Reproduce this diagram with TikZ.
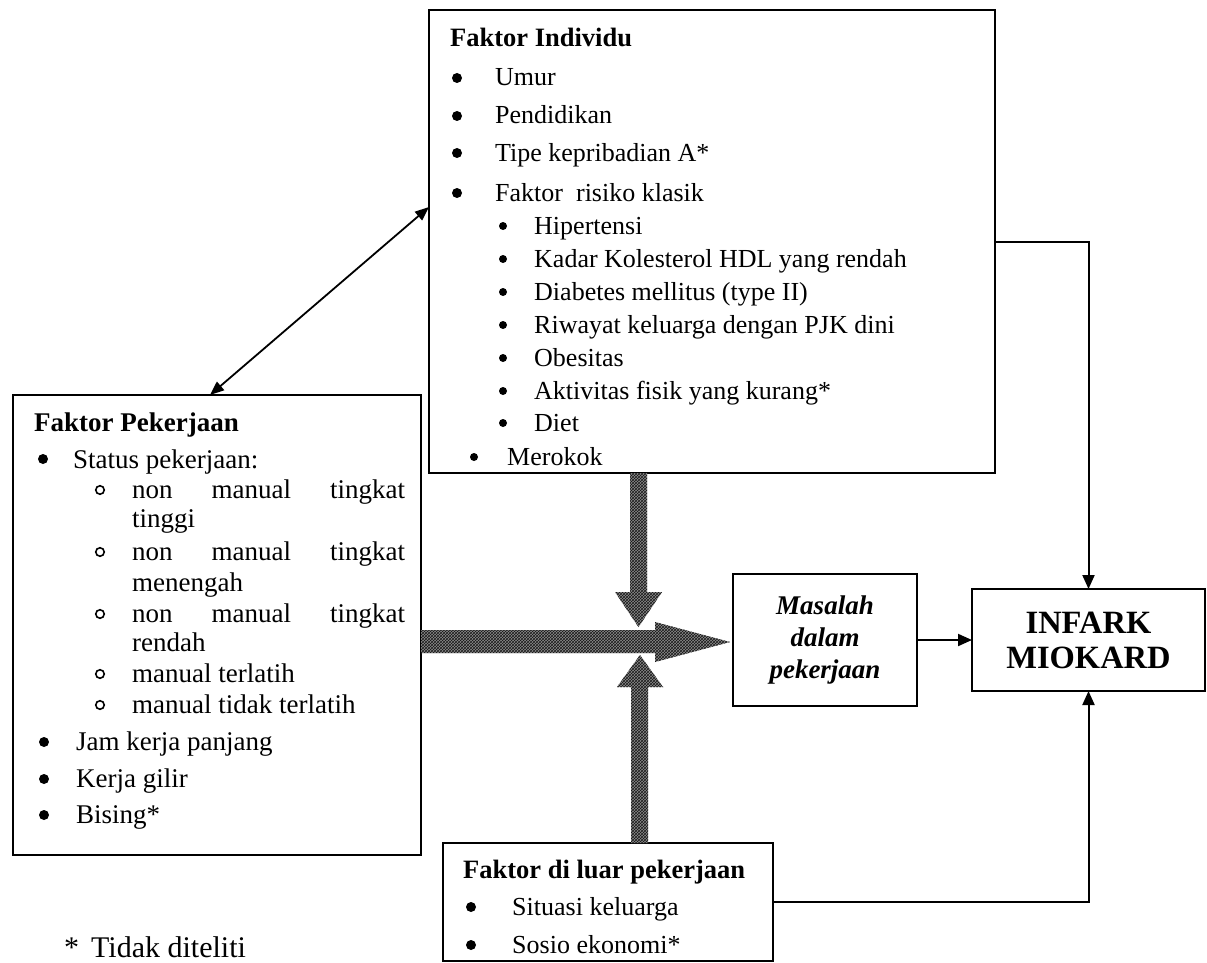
\documentclass[tikz,border=0pt]{standalone}
\usepackage{fontspec}
\setmainfont{Liberation Serif}
\usetikzlibrary{arrows.meta,patterns}
\begin{document}
\begin{tikzpicture}[x=1pt,y=-1pt,
  box/.style={draw, line width=2.2pt, inner sep=0pt, outer sep=0pt},
  conn/.style={line width=2pt, arrows={-Triangle[length=14pt,width=12pt]}},
  dconn/.style={line width=1.8pt, arrows={Triangle[length=14pt,width=11pt]-Triangle[length=14pt,width=11pt]}},
  txt/.style={anchor=base west, yshift=-8pt, inner sep=0pt, font=\fontsize{26}{30}\selectfont},
  ltxt/.style={anchor=base west, yshift=-8pt, inner sep=0pt, font=\fontsize{27}{31}\selectfont},
  hd/.style={anchor=base west, yshift=-8pt, inner sep=0pt, font=\fontsize{26.5}{30}\selectfont\bfseries},
  bul/.style={circle, fill=black, inner sep=0pt, minimum size=10pt},
  sbul/.style={circle, fill=black, inner sep=0pt, minimum size=8pt},
  obul/.style={circle, draw=black, line width=1.6pt, inner sep=0pt, minimum size=8.5pt},
  hatch/.style={preaction={fill=black!45}, pattern=crosshatch, pattern color=black!90}]
\fill[white] (0,0) rectangle (1207,963);
\useasboundingbox (0,0) rectangle (1207,963);

% boxes
\node[box, minimum width=566pt, minimum height=463pt] (ind) at (712,241.5) {};
\node[box, minimum width=408pt, minimum height=460pt] (kerja) at (217,625) {};
\node[box, minimum width=184pt, minimum height=132pt, align=center,
      font=\fontsize{27}{32}\selectfont\bfseries\itshape] (mas) at (825,640) {Masalah\\dalam\\pekerjaan};
\node[box, minimum width=233pt, minimum height=102pt, align=center,
      font=\fontsize{32.5}{35}\selectfont\bfseries] (inf) at (1088.5,640) {INFARK\\MIOKARD};
\node[box, minimum width=330pt, minimum height=118pt] (luar) at (608,902) {};

% hatched arrows
\path[hatch] (421,630) -- (655,630) -- (655,622) -- (730,642) -- (655,662) -- (655,653) -- (421,653) -- cycle;
\path[hatch] (630,473) -- (647,473) -- (647,592) -- (662,592) -- (638.5,627) -- (615,592) -- (630,592) -- cycle;
\path[hatch] (631,843) -- (648,843) -- (648,687) -- (663,687) -- (640,655) -- (617,687) -- (631,687) -- cycle;

% connectors
\draw[dconn] ([yshift=34.5pt]ind.west) -- ([xshift=-7pt]kerja.north);
\draw[conn] (ind.east) -| (inf.north);
\draw[conn] (luar.east) -| (inf.south);
\draw[conn] (mas.east) -- (inf.west);

% Faktor Individu
\node[hd] (ih) at (450,39) {Faktor Individu};
\foreach \y/\t [count=\i] in {78/Umur, 116/Pendidikan, 153/{Tipe kepribadian A*}, 193/{Faktor\ \ risiko klasik}} {
  \node[bul] (ib\i) at (457,\y) {};
  \node[txt] (it\i) at (495,\y) {\t};
}
\foreach \y/\t [count=\i] in {226/Hipertensi, 259/{Kadar Kolesterol HDL yang rendah}, 292/{Diabetes mellitus (type II)}, 325/{Riwayat keluarga dengan PJK dini}, 358/Obesitas, 391/{Aktivitas fisik yang kurang*}, 423/Diet} {
  \node[sbul] (isb\i) at (503,\y) {};
  \node[txt] (ist\i) at (534,\y) {\t};
}
\node[sbul] (imb) at (474,457) {};
\node[txt] (imt) at (507,457) {Merokok};

% Faktor Pekerjaan
\node[hd, font=\fontsize{27}{30}\selectfont\bfseries] (kh) at (34,423) {Faktor Pekerjaan};
\node[bul] (kb0) at (43,459) {};
\node[ltxt] (kt0) at (73,460) {Status pekerjaan:};
\foreach \y [count=\i] in {490,552,614} {
  \node[obul] (ko\i) at (100,\y) {};
  \node[ltxt] (kj\i) at (132,\y) {\hbox to 273pt{non\hfill manual\hfill tingkat}};
}
\node[ltxt] (kc1) at (132,519) {tinggi};
\node[ltxt] (kc2) at (132,583) {menengah};
\node[ltxt] (kc3) at (132,643) {rendah};
\node[obul] (ko4) at (100,674) {};
\node[ltxt] (kt4) at (132,674) {manual terlatih};
\node[obul] (ko5) at (100,705) {};
\node[ltxt] (kt5) at (132,705) {manual tidak terlatih};
\foreach \y/\t [count=\i] in {742/{Jam kerja panjang}, 779/{Kerja gilir}, 815/Bising*} {
  \node[bul] (kb\i) at (44,\y) {};
  \node[ltxt] (kt\i) at (76,\y) {\t};
}

% Faktor di luar pekerjaan
\node[hd] (lh) at (463,870) {Faktor di luar pekerjaan};
\node[bul] (lb1) at (471,907) {};
\node[txt] (lt1) at (512,907) {Situasi keluarga};
\node[bul] (lb2) at (471,945) {};
\node[txt] (lt2) at (512,945) {Sosio ekonomi*};

% footnote
\node[anchor=base west, yshift=-9pt, inner sep=0pt, font=\fontsize{30}{34}\selectfont] (fn) at (64,948) {*\hspace{12pt}Tidak diteliti};
\end{tikzpicture}
\end{document}
